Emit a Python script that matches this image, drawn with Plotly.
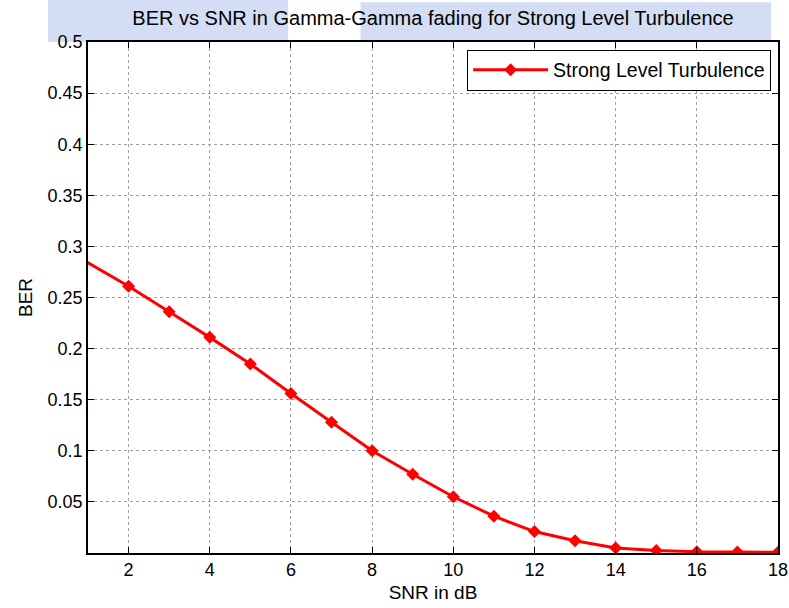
import plotly.graph_objects as go

snr_db = [0, 2, 3, 4, 5, 6, 7, 8, 9, 10, 11, 12, 13, 14, 15, 16, 17, 18]
ber = [0.307, 0.261, 0.236, 0.211, 0.185, 0.156, 0.128, 0.100, 0.077,
       0.055, 0.036, 0.021, 0.012, 0.005, 0.0025, 0.0012, 0.0009, 0.0008]
x_ticks = [2, 4, 6, 8, 10, 12, 14, 16, 18]
y_ticks = [0.05, 0.1, 0.15, 0.2, 0.25, 0.3, 0.35, 0.4, 0.45, 0.5]
y_tick_text = ["0.05", "0.1", "0.15", "0.2", "0.25", "0.3", "0.35", "0.4", "0.45", "0.5"]

FONT = "Liberation Sans, Arial"

fig = go.Figure()
fig.add_trace(go.Scatter(
    x=snr_db, y=ber, mode="lines+markers", name="Strong Level Turbulence",
    line=dict(color="#ff0000", width=3),
    marker=dict(symbol="diamond", size=10, color="#ff0000"),
))

axis_common = dict(
    showline=True, linecolor="black", linewidth=1.5, mirror="allticks",
    ticks="inside", ticklen=6, tickcolor="black", automargin=False,
    showgrid=True, gridcolor="#a0a0a0", griddash="dot", gridwidth=1,
    zeroline=False, tickfont=dict(family=FONT, size=18, color="black"),
)

fig.update_layout(
    width=789, height=608,
    margin=dict(l=88, r=11, t=42, b=55),
    paper_bgcolor="white", plot_bgcolor="white",
    title=dict(text="BER vs SNR in Gamma-Gamma fading for Strong Level Turbulence",
               x=0.5, xref="paper", xanchor="center", y=0.97, yanchor="middle",
               font=dict(family=FONT, size=20, color="black")),
    xaxis=dict(range=[1, 18], tickvals=x_ticks,
               title=dict(text="SNR in dB", standoff=6,
                          font=dict(family=FONT, size=19, color="black")),
               **axis_common),
    yaxis=dict(range=[0, 0.5], tickvals=y_ticks, ticktext=y_tick_text,
               title=dict(text="BER", standoff=10,
                          font=dict(family=FONT, size=19, color="black")),
               **axis_common),
    legend=dict(x=0.99, y=0.985, xanchor="right", yanchor="top",
                bgcolor="white", bordercolor="black", borderwidth=1,
                itemwidth=75,
                font=dict(family=FONT, size=19.5, color="black")),
    showlegend=True,
    shapes=[
        dict(type="rect", xref="paper", yref="paper", x0=-0.058, x1=0.29, y0=1.0, y1=1.082,
             fillcolor="#d3ddf3", line=dict(width=0), layer="below"),
        dict(type="rect", xref="paper", yref="paper", x0=0.395, x1=0.99, y0=1.0, y1=1.078,
             fillcolor="#d3ddf3", line=dict(width=0), layer="below"),
    ],
)

fig.write_html("out.html")
